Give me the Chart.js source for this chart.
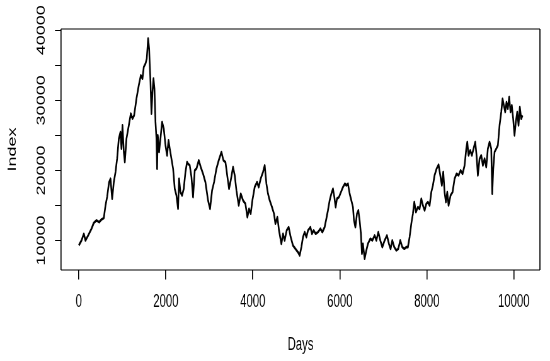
<!DOCTYPE html>
<html>
<head>
<meta charset="utf-8">
<script src="https://cdn.jsdelivr.net/npm/chart.js@4.4.1/dist/chart.umd.min.js"></script>
<style>
    html, body { margin: 0; padding: 0; background: #fff; overflow: hidden; }
    #wrap { width: 550px; height: 361px; overflow: hidden; position: relative; }
    /* the reference is an R plot squeezed sideways, so draw wide and squeeze */
    #chartIndex { position: absolute; left: 0; top: 0; transform: scaleX(0.63); transform-origin: 0 0; }
</style>
</head>
<body>
<div id="wrap"><canvas id="chartIndex" width="873" height="361"></canvas></div>
<script>
/* global Chart */
const days = [
    0, 62, 115, 153, 214, 291, 345, 406, 467, 520, 574, 613, 650, 696, 728, 766, 804, 843, 880, 919,
    957, 980, 1003, 1034, 1057, 1095, 1149, 1195, 1233, 1271, 1325, 1378, 1425, 1463, 1493, 1532, 1562, 1593, 1616, 1647,
    1670, 1693, 1716, 1739, 1762, 1785, 1799, 1815, 1845, 1876, 1914, 1953, 1992, 2029, 2061, 2091, 2129, 2167, 2205, 2244,
    2281, 2304, 2336, 2373, 2412, 2451, 2488, 2511, 2550, 2589, 2626, 2665, 2704, 2757, 2803, 2856, 2910, 2971, 3017, 3063,
    3109, 3163, 3216, 3278, 3324, 3370, 3416, 3453, 3492, 3545, 3584, 3623, 3676, 3722, 3775, 3829, 3875, 3913, 3951, 3990,
    4043, 4097, 4135, 4181, 4234, 4273, 4312, 4349, 4388, 4441, 4487, 4519, 4565, 4602, 4656, 4694, 4732, 4778, 4824, 4870,
    4923, 4978, 5038, 5077, 5116, 5153, 5192, 5231, 5268, 5323, 5360, 5399, 5445, 5498, 5553, 5598, 5651, 5690, 5727, 5766,
    5805, 5842, 5874, 5904, 5934, 5980, 6026, 6072, 6118, 6150, 6187, 6226, 6265, 6302, 6325, 6357, 6394, 6426, 6455, 6485,
    6508, 6531, 6570, 6609, 6646, 6701, 6747, 6800, 6839, 6885, 6931, 6977, 7030, 7083, 7129, 7167, 7206, 7252, 7298, 7344,
    7390, 7436, 7482, 7528, 7565, 7604, 7643, 7680, 7712, 7750, 7795, 7834, 7873, 7910, 7949, 7988, 8025, 8064, 8103, 8140,
    8178, 8224, 8270, 8309, 8346, 8378, 8408, 8438, 8470, 8500, 8546, 8592, 8638, 8684, 8730, 8776, 8822, 8868, 8907, 8930,
    8959, 8998, 9035, 9074, 9113, 9143, 9173, 9212, 9251, 9288, 9327, 9366, 9403, 9442, 9481, 9504, 9527, 9557, 9596, 9633,
    9672, 9711, 9741, 9771, 9802, 9832, 9862, 9894, 9924, 9954, 9985, 10016, 10046, 10078, 10108, 10138, 10170, 10200
];
const index = [
    9290, 10000, 10950, 10000, 10710, 11670, 12520, 12860, 12620, 13000, 13190, 15000, 16190, 18330, 18810, 15950, 18330, 19760, 21670, 24520,
    25480, 23100, 26430, 22620, 21190, 24520, 26430, 28100, 27380, 27860, 30240, 32140, 33570, 33100, 34760, 35240, 35950, 38810, 37380, 32620,
    28100, 31190, 33100, 31670, 26900, 24520, 20240, 25000, 22620, 24520, 26900, 25950, 23570, 22140, 24290, 23100, 21670, 20240, 17380, 16430,
    14520, 18810, 16900, 16430, 17380, 19760, 21190, 20950, 20710, 19050, 16190, 20000, 20240, 21430, 20480, 19520, 18330, 15710, 14520, 17140,
    18330, 20240, 21430, 22620, 21430, 21190, 19050, 17380, 18570, 20480, 19290, 17140, 15000, 16670, 15710, 15240, 13330, 14520, 13810, 15710,
    17620, 18330, 17620, 18810, 19760, 20710, 18100, 16670, 15710, 14760, 13810, 12380, 13330, 11430, 9520, 10950, 10000, 11430, 11900, 10480,
    9290, 8810, 8330, 7860, 9050, 10480, 11190, 10480, 11430, 11900, 10950, 11430, 10950, 11190, 11670, 11190, 11900, 13100, 14290, 15710,
    16670, 17380, 16190, 14760, 15950, 16190, 16900, 17620, 18100, 17860, 18100, 16670, 15710, 14760, 12860, 11900, 13810, 14290, 12860, 10950,
    8100, 9520, 7380, 8570, 9520, 10240, 10000, 10710, 10000, 11190, 10000, 9050, 10000, 10710, 9520, 8810, 10000, 9050, 8570, 8810,
    10000, 9050, 8810, 9050, 9050, 10480, 12380, 13810, 15480, 14050, 14760, 14520, 15950, 15000, 14290, 15240, 15480, 15000, 16900, 17860,
    19290, 20240, 20810, 19290, 17860, 19760, 16900, 15480, 16900, 15000, 16430, 16900, 18810, 19520, 19290, 20000, 19520, 20710, 23100, 24050,
    22140, 22860, 22140, 23100, 24050, 22140, 19290, 21670, 22140, 20710, 21670, 20480, 23100, 24050, 23100, 16670, 20240, 22620, 23100, 23570,
    26430, 28330, 30240, 29290, 28330, 29760, 28810, 30480, 28330, 29290, 27380, 25000, 26900, 28330, 26430, 29050, 27380, 27860
];
const xTicks = [0, 2000, 4000, 6000, 8000, 10000];
const yTicks = [10000, 15000, 20000, 25000, 30000, 35000, 40000];
const yTickLabels = ['10000', '', '20000', '', '30000', '', '40000'];

const FONT = "'Liberation Sans', Arial, Helvetica, sans-serif";

const rPlotBits = {
    id: 'rPlotBits',
    afterDraw(chart) {
        const ctx = chart.ctx;
        const a = chart.chartArea;
        ctx.save();
        ctx.strokeStyle = '#000';
        ctx.lineWidth = 1.1;
        ctx.beginPath();
        ctx.moveTo(a.left, a.top); ctx.lineTo(a.right, a.top);
        ctx.moveTo(a.left, a.bottom); ctx.lineTo(a.right, a.bottom);
        ctx.stroke();
        ctx.lineWidth = 1.7;
        ctx.beginPath();
        ctx.moveTo(a.left, a.top); ctx.lineTo(a.left, a.bottom);
        ctx.moveTo(a.right, a.top); ctx.lineTo(a.right, a.bottom);
        ctx.stroke();

        // y tick labels run along the axis, as R draws them
        const y = chart.scales.y;
        ctx.fillStyle = '#000';
        ctx.font = '18px ' + FONT;
        ctx.textAlign = 'center';
        ctx.textBaseline = 'middle';
        yTicks.forEach((v, i) => {
            if (!yTickLabels[i]) return;
            ctx.save();
            ctx.translate(66, y.getPixelForValue(v));
            ctx.rotate(-Math.PI / 2);
            ctx.fillText(yTickLabels[i], 0, 0);
            ctx.restore();
        });
        ctx.restore();
    }
};

new Chart(document.getElementById('chartIndex'), {
    type: 'line',
    data: {
        datasets: [{
            data: days.map((d, i) => ({ x: d, y: index[i] })),
            borderColor: '#000',
            borderWidth: 2.6,
            borderJoinStyle: 'round',
            pointRadius: 0,
            tension: 0,
            fill: false
        }]
    },
    options: {
        responsive: false,
        animation: false,
        layout: { padding: { top: 29, right: 16, left: 0, bottom: 0 } },
        plugins: {
            legend: { display: false },
            tooltip: { enabled: false }
        },
        scales: {
            x: {
                type: 'linear',
                min: -410,
                max: 10600,
                afterBuildTicks: s => { s.ticks = xTicks.map(v => ({ value: v })); },
                afterFit: s => { s.height = 91; },
                grid: { drawOnChartArea: false, tickLength: 9.5, color: '#000', lineWidth: 1.6 },
                border: { display: false },
                ticks: {
                    color: '#000',
                    font: { family: FONT, size: 18 },
                    padding: 12,
                    maxRotation: 0,
                    autoSkip: false,
                    callback: v => String(v)
                },
                title: {
                    display: true,
                    text: 'Days',
                    color: '#000',
                    font: { family: FONT, size: 18 },
                    padding: { top: 0, bottom: 5 }
                }
            },
            y: {
                min: 5780,
                max: 40190,
                afterBuildTicks: s => { s.ticks = yTicks.map(v => ({ value: v })); },
                afterFit: s => { s.width = 96.8; },
                grid: { drawOnChartArea: false, tickLength: 9.5, color: '#000', lineWidth: 1 },
                border: { display: false },
                ticks: { display: false },
                title: {
                    display: true,
                    text: 'Index',
                    color: '#000',
                    font: { family: FONT, size: 18 },
                    padding: { top: 9, bottom: 0 }
                }
            }
        }
    },
    plugins: [rPlotBits]
});
</script>
</body>
</html>
